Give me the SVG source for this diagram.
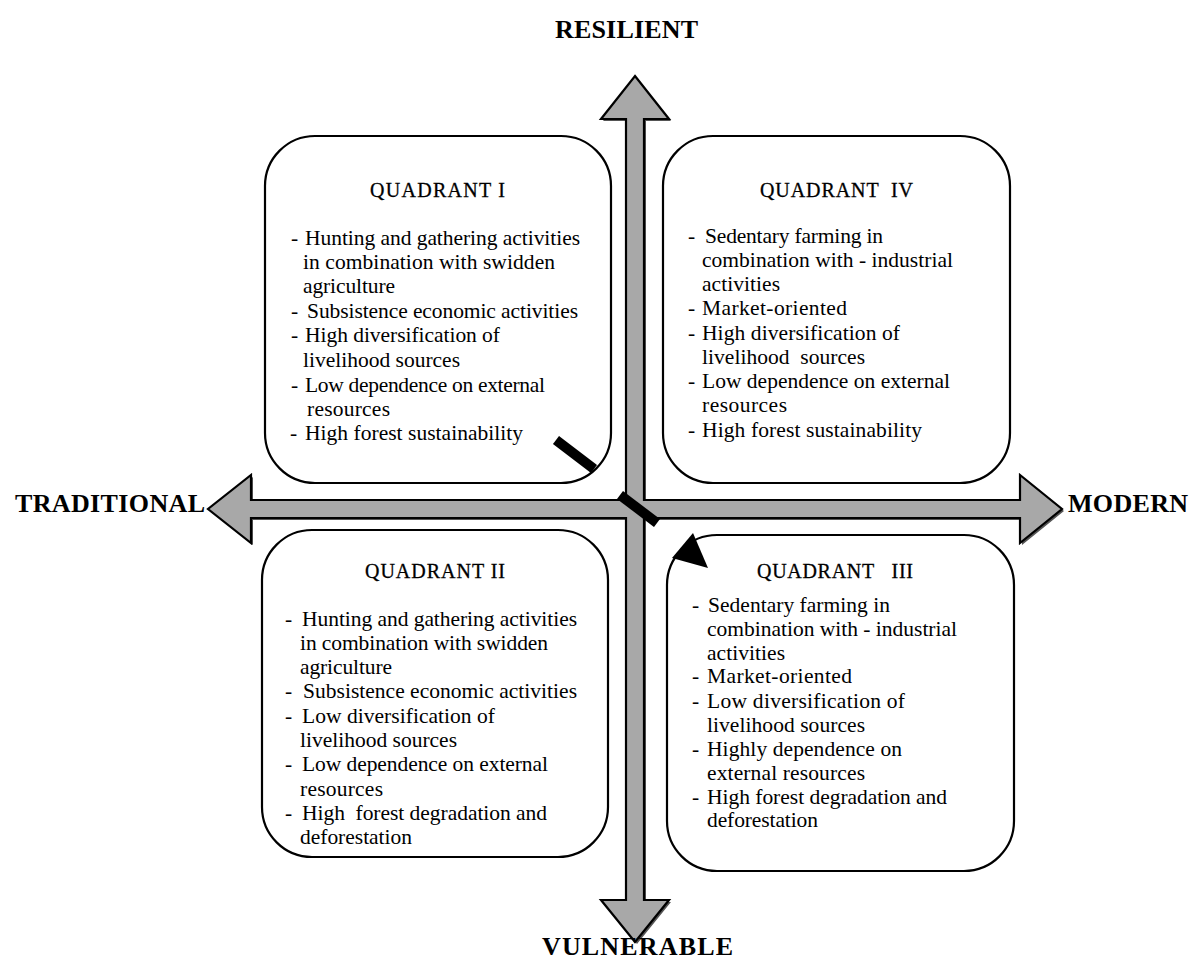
<svg xmlns="http://www.w3.org/2000/svg" width="1192" height="963" viewBox="0 0 1192 963">
<style>
.box{fill:#fff;stroke:#000;stroke-width:2.2}
.t{font-family:'Liberation Serif',serif;font-size:21.5px;fill:#000}
.h{font-family:'Liberation Serif',serif;font-size:20px;fill:#000;stroke:#000;stroke-width:0.3}
.lab{font-family:'Liberation Serif',serif;font-size:26px;font-weight:bold;fill:#000}
.bar{stroke:#000;stroke-width:10;stroke-linecap:butt}
</style>
<rect width="1192" height="963" fill="#fff"/>
<g id="axes">
<polygon transform="translate(2,2)" fill="#555" points="635,76 669,119 644,119 644,500 1020,500 1020,475 1062,509 1020,543 1020,518 644,518 644,900 669,900 635,942 601,900 626,900 626,518 251,518 251,543 208,509 251,475 251,500 626,500 626,119 601,119"/>
<polygon fill="#a8a8a8" stroke="#000" stroke-width="2.2" stroke-linejoin="miter" points="635,76 669,119 644,119 644,500 1020,500 1020,475 1062,509 1020,543 1020,518 644,518 644,900 669,900 635,942 601,900 626,900 626,518 251,518 251,543 208,509 251,475 251,500 626,500 626,119 601,119"/>
</g>
<g id="labels">
<text class="lab" x="555" y="38" textLength="143">RESILIENT</text>
<text class="lab" x="15" y="512" textLength="190">TRADITIONAL</text>
<text class="lab" x="1068" y="512" textLength="120">MODERN</text>
<text class="lab" x="542" y="955" textLength="191">VULNERABLE</text>
</g>
<g id="q1">
<rect class="box" x="265" y="136" width="346" height="347" rx="50" ry="50"/>
<text class="h" x="370" y="197" textLength="135">QUADRANT I</text>
<text class="t" x="291" y="245">-</text><text class="t" x="305" y="245" textLength="275">Hunting and gathering activities</text>
<text class="t" x="303" y="269" textLength="252">in combination with swidden</text>
<text class="t" x="303" y="293" textLength="92">agriculture</text>
<text class="t" x="291" y="318">-</text><text class="t" x="307" y="318" textLength="271">Subsistence economic activities</text>
<text class="t" x="291" y="342">-</text><text class="t" x="305" y="342" textLength="195">High diversification of</text>
<text class="t" x="303" y="367" textLength="157">livelihood sources</text>
<text class="t" x="291" y="392">-</text><text class="t" x="305" y="392" textLength="240">Low dependence on external</text>
<text class="t" x="307" y="416" textLength="83">resources</text>
<text class="t" x="290" y="440">-</text><text class="t" x="305" y="440" textLength="218">High forest sustainability</text>
</g>
<g id="q4">
<rect class="box" x="663" y="136" width="347" height="347" rx="50" ry="50"/>
<text class="h" x="760" y="197" textLength="153" xml:space="preserve">QUADRANT  IV</text>
<text class="t" x="688" y="243">-</text><text class="t" x="705" y="243" textLength="178">Sedentary farming in</text>
<text class="t" x="702" y="267" textLength="251">combination with - industrial</text>
<text class="t" x="702" y="291" textLength="78">activities</text>
<text class="t" x="688" y="315">-</text><text class="t" x="702" y="315" textLength="145">Market-oriented</text>
<text class="t" x="688" y="340">-</text><text class="t" x="702" y="340" textLength="198">High diversification of</text>
<text class="t" x="702" y="364" textLength="163" xml:space="preserve">livelihood  sources</text>
<text class="t" x="688" y="388">-</text><text class="t" x="702" y="388" textLength="248">Low dependence on external</text>
<text class="t" x="702" y="412" textLength="85">resources</text>
<text class="t" x="688" y="437">-</text><text class="t" x="702" y="437" textLength="220">High forest sustainability</text>
</g>
<g id="q2">
<rect class="box" x="262" y="530" width="346" height="327" rx="50" ry="50"/>
<text class="h" x="365" y="578" textLength="140">QUADRANT II</text>
<text class="t" x="285" y="626">-</text><text class="t" x="302" y="626" textLength="275">Hunting and gathering activities</text>
<text class="t" x="300" y="650" textLength="248">in combination with swidden</text>
<text class="t" x="300" y="674" textLength="92">agriculture</text>
<text class="t" x="285" y="698">-</text><text class="t" x="303" y="698" textLength="274">Subsistence economic activities</text>
<text class="t" x="285" y="723">-</text><text class="t" x="302" y="723" textLength="193">Low diversification of</text>
<text class="t" x="300" y="747" textLength="157">livelihood sources</text>
<text class="t" x="285" y="771">-</text><text class="t" x="302" y="771" textLength="246">Low dependence on external</text>
<text class="t" x="300" y="796" textLength="83">resources</text>
<text class="t" x="285" y="820">-</text><text class="t" x="302" y="820" textLength="245" xml:space="preserve">High  forest degradation and</text>
<text class="t" x="300" y="844" textLength="112">deforestation</text>
</g>
<g id="q3">
<rect class="box" x="667" y="535" width="347" height="336" rx="50" ry="50"/>
<text class="h" x="757" y="578" textLength="156" xml:space="preserve">QUADRANT   III</text>
<text class="t" x="692" y="612">-</text><text class="t" x="708" y="612" textLength="182">Sedentary farming in</text>
<text class="t" x="707" y="636" textLength="250">combination with - industrial</text>
<text class="t" x="707" y="660" textLength="78">activities</text>
<text class="t" x="692" y="683">-</text><text class="t" x="707" y="683" textLength="145">Market-oriented</text>
<text class="t" x="692" y="708">-</text><text class="t" x="707" y="708" textLength="198">Low diversification of</text>
<text class="t" x="707" y="732" textLength="158">livelihood sources</text>
<text class="t" x="692" y="756">-</text><text class="t" x="707" y="756" textLength="195">Highly dependence on</text>
<text class="t" x="707" y="780" textLength="158">external resources</text>
<text class="t" x="692" y="804">-</text><text class="t" x="707" y="804" textLength="240">High forest degradation and</text>
<text class="t" x="707" y="827" textLength="111">deforestation</text>
</g>
<g id="connectors">
<line class="bar" x1="556" y1="440" x2="594" y2="469"/>
<line class="bar" x1="620" y1="495" x2="657" y2="523"/>
<polygon fill="#000" points="693,533 672,558 708,568"/>
</g>
</svg>
